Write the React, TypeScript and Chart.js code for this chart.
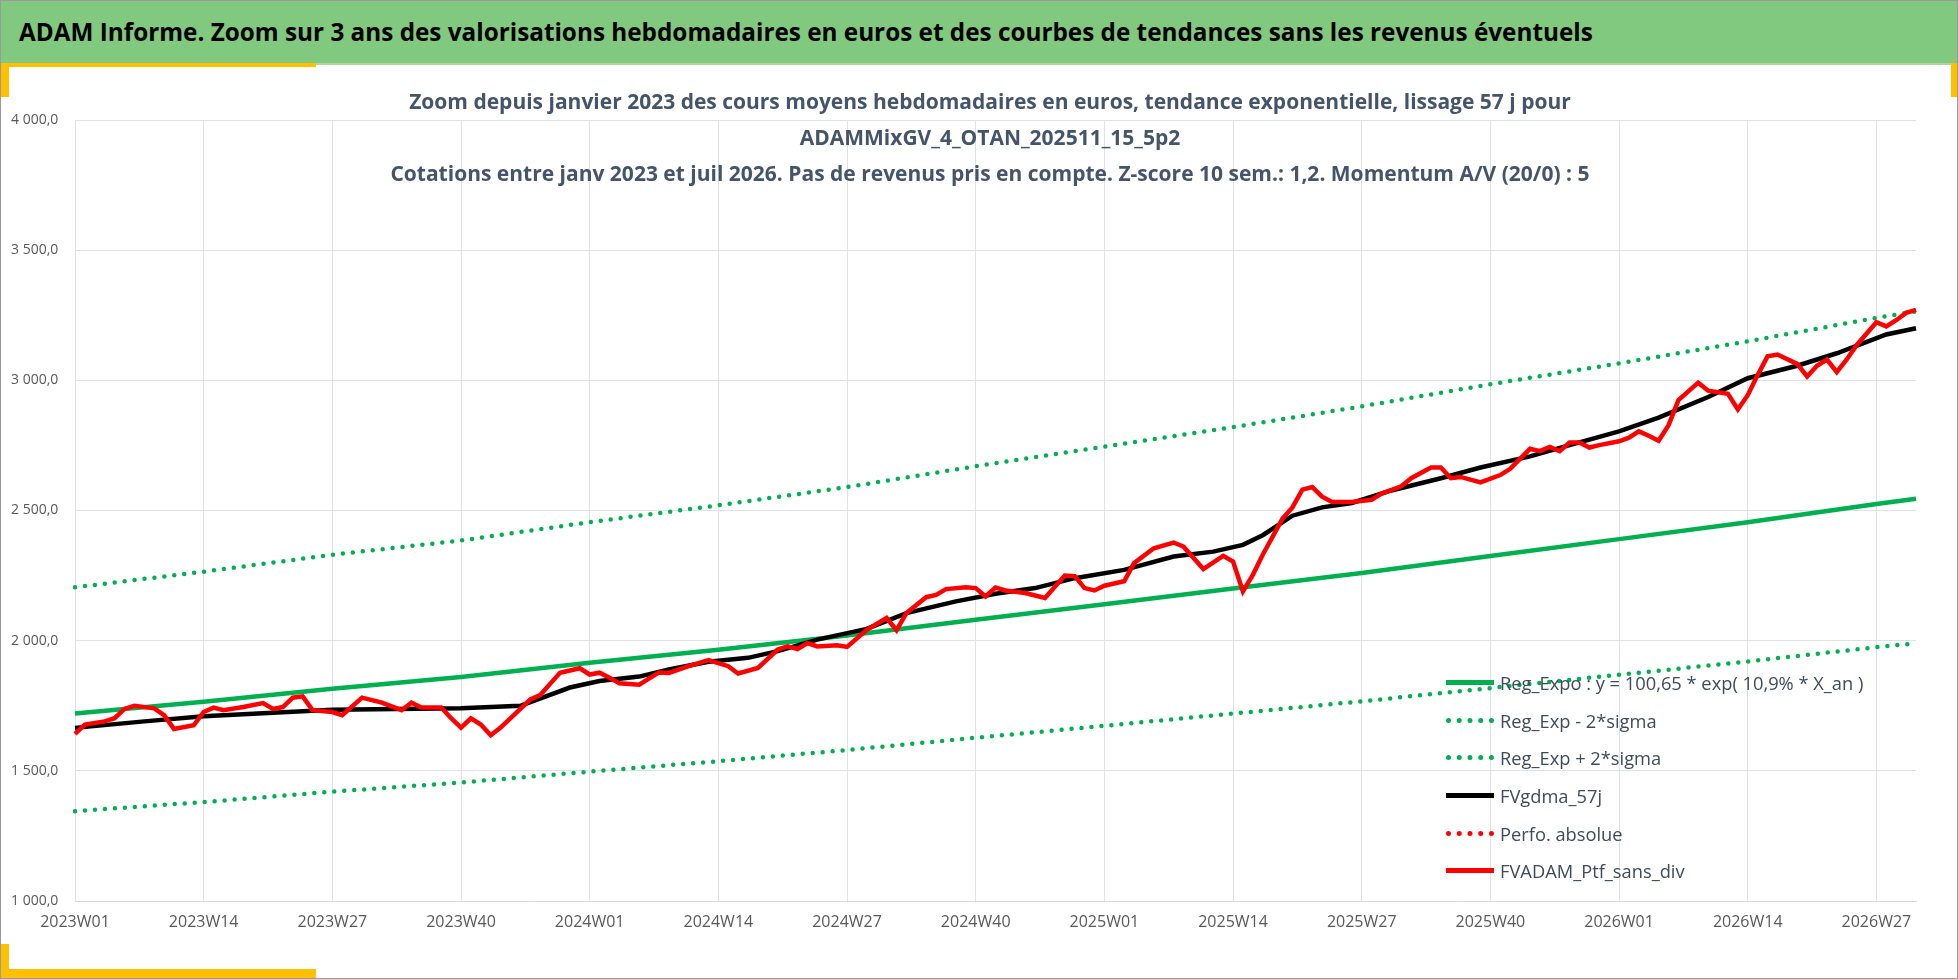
import React, { useEffect, useRef } from 'react';
import { Chart, registerables } from 'chart.js';

Chart.register(...registerables);

// week labels 2023W01 .. 2026W31
const years = [2023, 2024, 2025, 2026];
const weeksPerYear = [52, 52, 52, 31];
const weekLabels: string[] = [];
years.forEach((y, k) => {
  for (let w = 1; w <= weeksPerYear[k]; w++) weekLabels.push(`${y}W${String(w).padStart(2, '0')}`);
});

// trend lines, read every 13 weeks (+ last week)
const trendWeeks = [0, 13, 26, 39, 52, 65, 78, 91, 104, 117, 130, 143, 156, 169, 182, 186];
const regExpo = [1720, 1765, 1815, 1860, 1915, 1965, 2020, 2080, 2140, 2200, 2260, 2325, 2390, 2455, 2525, 2545];
const regMinus = [1345, 1380, 1420, 1455, 1497, 1537, 1580, 1627, 1673, 1720, 1767, 1818, 1869, 1920, 1975, 1990];
const regPlus = [2205, 2265, 2330, 2385, 2455, 2520, 2590, 2670, 2745, 2820, 2900, 2985, 3065, 3150, 3240, 3265];

// FVgdma_57j
const gdmaWeeks = [0, 7, 13, 26, 39, 45, 50, 53, 57, 60, 64, 68, 71, 75, 80, 84, 89, 93, 97, 101, 106, 111, 115, 118, 120, 123, 126, 129, 133, 138, 142, 147, 151, 156, 160, 165, 169, 174, 178, 183, 186];
const gdmaValues = [1665, 1690, 1710, 1735, 1740, 1750, 1820, 1845, 1862, 1889, 1919, 1934, 1960, 2004, 2045, 2106, 2151, 2180, 2202, 2240, 2272, 2323, 2342, 2368, 2405, 2480, 2512, 2529, 2577, 2624, 2665, 2708, 2751, 2804, 2857, 2936, 3008, 3056, 3104, 3176, 3200];

// FVADAM_Ptf_sans_div
const ptfWeeks = [0, 1, 3, 4, 5, 6, 8, 9, 10, 12, 13, 14, 15, 17, 19, 20, 21, 22, 23, 24, 26, 27, 29, 31, 33, 34, 35, 37, 38, 39, 40, 41, 42, 43, 45, 46, 47, 48, 49, 51, 52, 53, 54, 55, 57, 59, 60, 62, 64, 66, 67, 69, 71, 72, 73, 74, 75, 77, 78, 80, 82, 83, 84, 86, 87, 88, 90, 91, 92, 93, 94, 96, 98, 100, 101, 102, 103, 104, 106, 107, 109, 111, 112, 114, 116, 117, 118, 119, 120, 122, 123, 124, 125, 126, 127, 129, 131, 132, 134, 135, 137, 138, 139, 140, 142, 144, 145, 147, 148, 149, 150, 151, 152, 153, 154, 156, 157, 158, 159, 160, 161, 162, 164, 165, 167, 168, 169, 170, 171, 172, 174, 175, 176, 177, 178, 179, 180, 182, 183, 184, 185, 186];
const ptfValues = [1642, 1678, 1690, 1702, 1738, 1750, 1740, 1714, 1661, 1675, 1726, 1743, 1733, 1745, 1760, 1738, 1745, 1781, 1786, 1733, 1726, 1714, 1781, 1762, 1733, 1762, 1743, 1743, 1702, 1666, 1702, 1678, 1637, 1666, 1738, 1774, 1791, 1834, 1877, 1894, 1870, 1877, 1858, 1836, 1831, 1878, 1876, 1902, 1925, 1902, 1874, 1895, 1966, 1978, 1968, 1991, 1978, 1982, 1976, 2042, 2087, 2040, 2106, 2167, 2176, 2198, 2205, 2202, 2170, 2204, 2193, 2183, 2164, 2250, 2248, 2202, 2193, 2211, 2228, 2298, 2355, 2377, 2361, 2275, 2326, 2304, 2189, 2253, 2330, 2469, 2512, 2580, 2590, 2553, 2533, 2533, 2541, 2565, 2593, 2624, 2665, 2665, 2624, 2629, 2608, 2636, 2660, 2737, 2728, 2744, 2728, 2761, 2761, 2742, 2751, 2766, 2780, 2804, 2787, 2768, 2828, 2924, 2991, 2960, 2948, 2888, 2943, 3020, 3092, 3099, 3063, 3015, 3056, 3080, 3032, 3080, 3135, 3223, 3207, 3231, 3259, 3271];

const legendItems = [
  { label: 'Reg_Expo : y = 100,65 * exp( 10,9% *  X_an )', color: '#00b050', dotted: false },
  { label: 'Reg_Exp - 2*sigma', color: '#00b050', dotted: true },
  { label: 'Reg_Exp + 2*sigma', color: '#00b050', dotted: true },
  { label: 'FVgdma_57j', color: '#000000', dotted: false },
  { label: 'Perfo. absolue', color: '#ff0000', dotted: true },
  { label: 'FVADAM_Ptf_sans_div', color: '#ff0000', dotted: false },
];

const sparse = (idx: number[], vals: number[]) => {
  const out: (number | null)[] = weekLabels.map(() => null);
  idx.forEach((i, k) => { out[i] = vals[k]; });
  return out;
};

const fmt = (v: number) => {
  const s = v.toFixed(1).replace('.', ',');
  return s.replace(/^(\d)(\d{3})/, '$1 $2');
};

const App: React.FC = () => {
  const chartRef = useRef<HTMLCanvasElement | null>(null);

  useEffect(() => {
    document.body.style.margin = '0';
    if (!chartRef.current) return;
    const dotted = { borderDash: [0, 10], borderCapStyle: 'round' as const, borderWidth: 4.5 };
    const chart = new Chart(chartRef.current, {
      type: 'line',
      data: {
        labels: weekLabels,
        datasets: [
          { label: 'FVADAM_Ptf_sans_div', data: sparse(ptfWeeks, ptfValues), borderColor: '#ff0000', borderWidth: 4.5 },
          { label: 'FVgdma_57j', data: sparse(gdmaWeeks, gdmaValues), borderColor: '#000000', borderWidth: 4.5 },
          { label: 'Reg_Exp + 2*sigma', data: sparse(trendWeeks, regPlus), borderColor: '#00b050', ...dotted },
          { label: 'Reg_Exp - 2*sigma', data: sparse(trendWeeks, regMinus), borderColor: '#00b050', ...dotted },
          { label: 'Reg_Expo', data: sparse(trendWeeks, regExpo), borderColor: '#00b050', borderWidth: 4.5 },
        ],
      },
      options: {
        animation: false,
        responsive: false,
        spanGaps: true,
        elements: { point: { radius: 0 }, line: { tension: 0 } },
        layout: { padding: { left: 10, right: 41, top: 119, bottom: 37 } },
        plugins: { legend: { display: false }, tooltip: { enabled: false } },
        scales: {
          x: {
            afterFit: (s: any) => { s.height = 40; },
            grid: {
              color: (c: any) => (c.index % 13 === 0 ? '#dfe1e8' : 'transparent'),
              drawTicks: false,
            },
            border: { color: '#d9d9d9' },
            ticks: {
              autoSkip: false,
              maxRotation: 0,
              padding: 12,
              color: '#595959',
              font: { family: 'Open Sans', size: 16 },
              callback: (_v: any, i: number) => (i % 13 === 0 ? weekLabels[i] : ''),
            },
          },
          y: {
            min: 1000,
            max: 4000,
            afterFit: (s: any) => { s.width = 64; },
            grid: { color: '#dfe1e8', drawTicks: false },
            border: { display: false },
            ticks: {
              stepSize: 500,
              crossAlign: 'far',
              padding: 6,
              color: '#595959',
              font: { family: 'Open Sans', size: 14 },
              callback: (v: any) => fmt(Number(v)),
            },
          },
        },
      },
    });
    return () => chart.destroy();
  }, []);

  const yellow = '#ffc000';
  return (
    <div style={{ position: 'relative', width: 1958, height: 979, background: '#fff', boxSizing: 'border-box', border: '1px solid #9a9a9a', overflow: 'hidden' }}>
      <canvas ref={chartRef} width={1956} height={977} style={{ position: 'absolute', left: 0, top: 0 }} />
      <div style={{ position: 'absolute', left: 0, top: 0, width: 1958, height: 62, background: '#80c97e', borderBottom: '2px solid #a9d8a0' }} />
      <div style={{ position: 'absolute', left: 18, top: 14, fontFamily: 'Open Sans', fontWeight: 700, fontSize: 24.3, color: '#000', whiteSpace: 'nowrap' }}>
        ADAM Informe. Zoom sur 3 ans des valorisations hebdomadaires en euros et des courbes de tendances sans les revenus éventuels
      </div>
      <div style={{ position: 'absolute', left: 0, top: 62, width: 315, height: 4, background: yellow }} />
      <div style={{ position: 'absolute', left: 0, top: 62, width: 8, height: 34, background: yellow }} />
      <div style={{ position: 'absolute', right: 0, top: 62, width: 6, height: 34, background: yellow }} />
      <div style={{ position: 'absolute', left: 0, bottom: 0, width: 315, height: 9, background: yellow }} />
      <div style={{ position: 'absolute', left: 0, bottom: 0, width: 8, height: 34, background: yellow }} />
      <div style={{ position: 'absolute', left: 0, top: 82, width: 1958, textAlign: 'center', fontFamily: 'Open Sans', fontWeight: 700, fontSize: 21, color: '#44546a', lineHeight: '36px', paddingLeft: 20, boxSizing: 'border-box' }}>
        <div>Zoom depuis janvier 2023 des cours moyens hebdomadaires  en euros, tendance exponentielle, lissage 57 j pour</div>
        <div>ADAMMixGV_4_OTAN_202511_15_5p2</div>
        <div>Cotations  entre janv 2023 et juil 2026. Pas de revenus pris en compte. Z-score 10 sem.: 1,2. Momentum  A/V (20/0) : 5</div>
      </div>
      <div style={{ position: 'absolute', left: 1445, top: 663 }}>
        {legendItems.map((it) => (
          <div key={it.label} style={{ display: 'flex', alignItems: 'center', height: 37.6 }}>
            <div style={{ width: 48, height: 0, borderTop: it.dotted ? `5px dotted ${it.color}` : `5px solid ${it.color}`, marginRight: 6 }} />
            <span style={{ fontFamily: 'Open Sans', fontSize: 18.3, color: '#404a5a', whiteSpace: 'nowrap' }}>{it.label}</span>
          </div>
        ))}
      </div>
    </div>
  );
};

export default App;
